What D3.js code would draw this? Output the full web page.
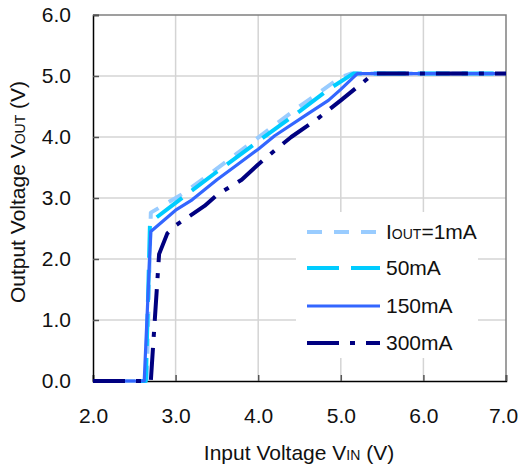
<!DOCTYPE html>
<html>
<head>
<meta charset="utf-8">
<script src="https://cdn.jsdelivr.net/npm/d3@7"></script>
<style>
  body { margin: 0; background: #fff; }
  svg { display: block; font-family: "Liberation Sans", Arial, sans-serif; }
</style>
</head>
<body>
<svg id="chart" width="519" height="471"></svg>
<script>
const xTicks = [2.0, 3.0, 4.0, 5.0, 6.0, 7.0];
const yTicks = [0.0, 1.0, 2.0, 3.0, 4.0, 5.0, 6.0];

// Input voltage (V) -> output voltage (V)
const vin1mA = [2.0, 2.65, 2.7, 3.1, 3.5, 4.0, 4.5, 5.0, 5.12, 7.0];
const vout1mA = [0, 0, 2.76, 3.08, 3.48, 3.99, 4.5, 4.98, 5.04, 5.04];

const vin50mA = [2.0, 2.64, 2.69, 3.0, 3.5, 4.0, 4.5, 4.85, 5.15, 7.0];
const vout50mA = [0, 0, 2.6, 2.92, 3.43, 3.93, 4.42, 4.78, 5.04, 5.04];

const vin150mA = [2.0, 2.62, 2.7, 3.0, 3.2, 3.5, 3.75, 4.0, 4.2, 4.6, 4.85, 5.0, 5.2, 7.0];
const vout150mA = [0, 0, 2.45, 2.8, 2.97, 3.3, 3.55, 3.8, 4.02, 4.38, 4.6, 4.78, 5.04, 5.04];

const vin300mA = [2.0, 2.7, 2.8, 2.9, 3.0, 3.35, 3.5, 3.8, 4.0, 4.2, 4.4, 4.7, 5.0, 5.3, 5.4, 7.0];
const vout300mA = [0, 0, 2.08, 2.42, 2.55, 2.87, 3.05, 3.3, 3.55, 3.78, 4.0, 4.28, 4.6, 4.93, 5.04, 5.04];

const seriesNames = ['1mA', '50mA', '150mA', '300mA'];

const series = [
    { name: seriesNames[0], xs: vin1mA, ys: vout1mA, color: '#99ccff', width: 4, dash: '15,12' },
    { name: seriesNames[1], xs: vin50mA, ys: vout50mA, color: '#00ccff', width: 4, dash: '32,12' },
    { name: seriesNames[2], xs: vin150mA, ys: vout150mA, color: '#3366ff', width: 3.2, dash: null },
    { name: seriesNames[3], xs: vin300mA, ys: vout300mA, color: '#000080', width: 4, dash: '32,11,5,11' }
];

const FONT = '"Liberation Sans", Arial, sans-serif';
const FONT_SIZE = 21;
const SUB_SIZE = 14;

const svg = d3.select('#chart');
const margin = { top: 15, right: 13, bottom: 90, left: 93 };
const width = 519;
const height = 471;

const xScale = d3.scaleLinear()
    .domain([2, 7])
    .range([margin.left, width - margin.right]);
const yScale = d3.scaleLinear()
    .domain([0, 6])
    .range([height - margin.bottom, margin.top]);

const x0 = xScale(2), x1 = xScale(7), y0 = yScale(0), y1 = yScale(6);

// grid
const grid = svg.append('g');
grid.selectAll('.vg').data(xTicks.slice(1, -1)).join('line')
    .attr('x1', (d) => xScale(d)).attr('x2', (d) => xScale(d))
    .attr('y1', y1).attr('y2', y0)
    .attr('stroke', '#d4d4d4').attr('stroke-width', 1.5);
grid.selectAll('.hg').data(yTicks.slice(1, -1)).join('line')
    .attr('x1', x0).attr('x2', x1)
    .attr('y1', (d) => yScale(d)).attr('y2', (d) => yScale(d))
    .attr('stroke', '#d4d4d4').attr('stroke-width', 1.5);

// frame top/right
svg.append('path')
    .attr('d', `M${x0},${y1}H${x1}V${y0}`)
    .attr('fill', 'none').attr('stroke', '#808080').attr('stroke-width', 1.5);

// legend background (covers grid)
const legend = svg.append('g');
legend.append('rect')
    .attr('x', 296).attr('y', 212).attr('width', 182).attr('height', 146)
    .attr('fill', '#fff');

// axes
const xAxis = d3.axisBottom(xScale).tickValues(xTicks).tickSize(-6).tickPadding(27)
    .tickFormat(d3.format('.1f'));
const yAxis = d3.axisLeft(yScale).tickValues(yTicks).tickSize(-6).tickPadding(22)
    .tickFormat(d3.format('.1f'));

const gx = svg.append('g').attr('transform', `translate(0,${y0})`).call(xAxis);
const gy = svg.append('g').attr('transform', `translate(${x0},0)`).call(yAxis);
[gx, gy].forEach((g) => {
    g.select('.domain').attr('stroke', '#000').attr('stroke-width', 1.5);
    g.selectAll('.tick line').attr('stroke', '#555').attr('stroke-width', 1.5);
    g.selectAll('.tick text').attr('fill', '#111').attr('font-size', FONT_SIZE)
        .attr('font-family', FONT);
});
// last label sits against the right edge, as in the original
gx.selectAll('.tick text').filter((d) => d === 7).attr('dx', -3);

// lines
const line = d3.line()
    .x((d) => xScale(d[0]))
    .y((d) => yScale(d[1]));

series.forEach((s) => {
    const pts = s.xs.map((v, i) => [v, s.ys[i]]);
    svg.append('path')
        .attr('d', line(pts))
        .attr('fill', 'none')
        .attr('stroke', s.color)
        .attr('stroke-width', s.width)
        .attr('stroke-dasharray', s.dash)
        .attr('stroke-linejoin', 'round');
});

// legend entries
const rowY = [232, 268, 306, 343];
series.forEach((s, i) => {
    legend.append('line')
        .attr('x1', 307).attr('x2', 380)
        .attr('y1', rowY[i]).attr('y2', rowY[i])
        .attr('stroke', s.color)
        .attr('stroke-width', s.width)
        .attr('stroke-dasharray', s.dash);
    const t = legend.append('text')
        .attr('x', 386).attr('y', rowY[i] + 7)
        .attr('font-size', FONT_SIZE).attr('fill', '#111');
    if (i === 0) {
        t.append('tspan').text('I');
        t.append('tspan').attr('font-size', SUB_SIZE).text('OUT');
        t.append('tspan').text('=' + s.name);
    } else {
        t.text(s.name);
    }
});

// axis titles
const xt = svg.append('text')
    .attr('x', 299).attr('y', 460)
    .attr('text-anchor', 'middle').attr('font-size', FONT_SIZE).attr('fill', '#111');
xt.append('tspan').text('Input Voltage V');
xt.append('tspan').attr('font-size', SUB_SIZE).text('IN');
xt.append('tspan').text(' (V)');

const yt = svg.append('text')
    .attr('transform', 'translate(25,192) rotate(-90)')
    .attr('text-anchor', 'middle').attr('font-size', FONT_SIZE).attr('fill', '#111');
yt.append('tspan').text('Output Voltage V');
yt.append('tspan').attr('font-size', SUB_SIZE).text('OUT');
yt.append('tspan').text(' (V)');
</script>
</body>
</html>
